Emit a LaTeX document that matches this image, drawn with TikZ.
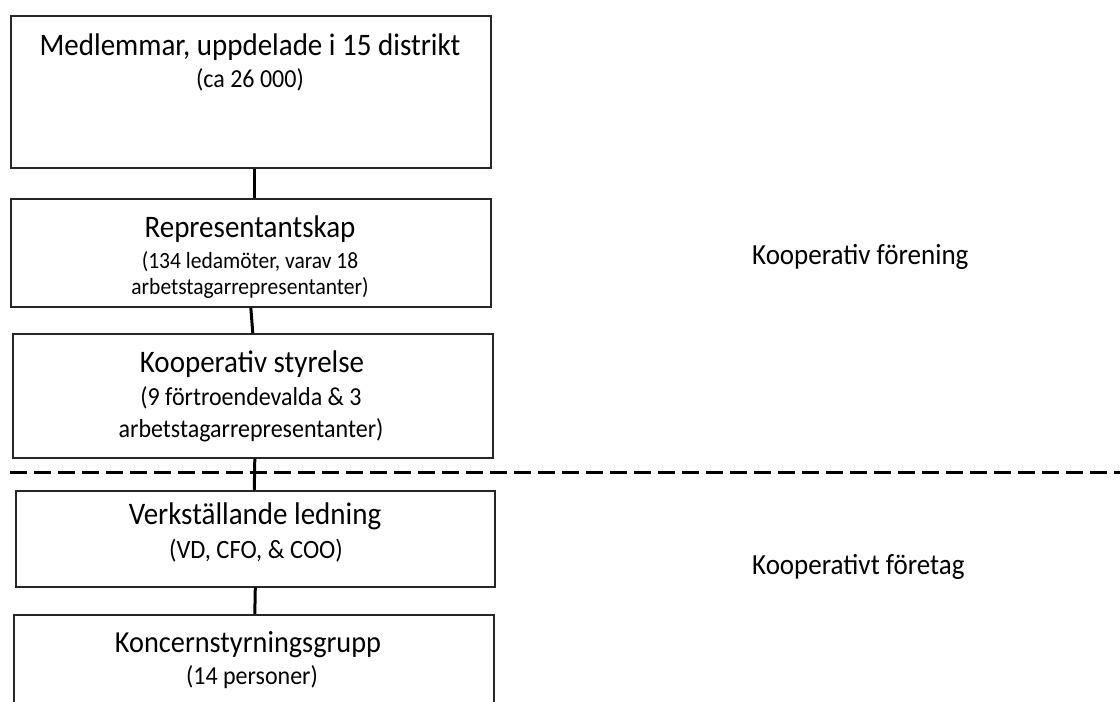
\documentclass[tikz,border=0pt]{standalone}
\usepackage{fontspec}
\setmainfont{Carlito}
% slightly taller letterforms
\newcommand{\tallglyphs}[1]{\scalebox{1}[1.08]{#1}}
\begin{document}
\begin{tikzpicture}[x=1pt,y=-1pt,
  box/.style={draw=black!85, line width=1.6pt, inner sep=0pt, anchor=north west},
  link/.style={draw=black, line width=3pt},
  divider/.style={draw=black, line width=3pt, dash pattern=on 17pt off 7pt},
  head/.style={anchor=base, inner sep=0pt, font=\fontsize{29}{34}\selectfont},
  sub/.style={anchor=base, inner sep=0pt, font=\fontsize{24}{32}\selectfont},
  side/.style={anchor=base west, inner sep=0pt, font=\fontsize{27}{32}\selectfont}]
\useasboundingbox (0,0) rectangle (1120,702);

% boxes of the hierarchy
\node[box, minimum width=480pt, minimum height=152pt] (b1) at (10,15) {};
\node[box, minimum width=480pt, minimum height=108pt] (b2) at (10,198) {};
\node[box, minimum width=480pt, minimum height=124pt] (b3) at (12,333) {};
\node[box, minimum width=479pt, minimum height=96pt] (b4) at (15,490) {};
\node[box, minimum width=480pt, minimum height=120pt] (b5) at (13,614) {};

% box texts
\node[head] (t1) at (250,55) {\tallglyphs{Medlemmar, uppdelade i 15 distrikt}};
\node[sub] (s1) at (250,87) {\tallglyphs{(ca 26 000)}};

\node[head] (t2) at (250,237) {\tallglyphs{Representantskap}};
\begin{scope}
  \clip (b2.north west) rectangle ([yshift=-10pt]b2.south east);
  \node[sub, font=\fontsize{21.5}{30}\selectfont] (s2) at (250,268) {\tallglyphs{(134 ledamöter, varav 18}};
  \node[sub, font=\fontsize{21.5}{30}\selectfont] (s2b) at (250,294) {\tallglyphs{arbetstagarrepresentanter)}};
\end{scope}

\node[head] (t3) at (252,372) {\tallglyphs{Kooperativ styrelse}};
\node[sub] (s3) at (251,405) {\tallglyphs{(9 förtroendevalda \& 3}};
\node[sub] (s3b) at (251,437) {\tallglyphs{arbetstagarrepresentanter)}};

\node[head] (t4) at (255,524) {\tallglyphs{Verkställande ledning}};
\node[sub, font=\fontsize{24.5}{32}\selectfont] (s4) at (256,558) {\tallglyphs{(VD, CFO, \& COO)}};

\node[head, font=\fontsize{28.3}{34}\selectfont] (t5) at (248,652) {\tallglyphs{Koncernstyrningsgrupp}};
\node[sub] (s5) at (252,684) {\tallglyphs{(14 personer)}};

% side labels
\node[side] (lf) at (752,264) {\tallglyphs{Kooperativ förening}};
\node[side] (lc) at (752,574) {\tallglyphs{Kooperativt företag}};

% connectors
\draw[link] ([xshift=4pt]b1.south) -- ([xshift=4pt]b2.north);
\draw[link] (b2.south) -- (b3.north);
\draw[link] ([xshift=2pt]b3.south) -- ([xshift=-1pt]b4.north);
\draw[link] (b4.south) -- ([xshift=1pt]b5.north);

% divider between association and company
\coordinate (dl) at (10,472);
\coordinate (dr) at (1120,472);
\draw[divider] (dl) -- (dr);
\end{tikzpicture}
\end{document}
